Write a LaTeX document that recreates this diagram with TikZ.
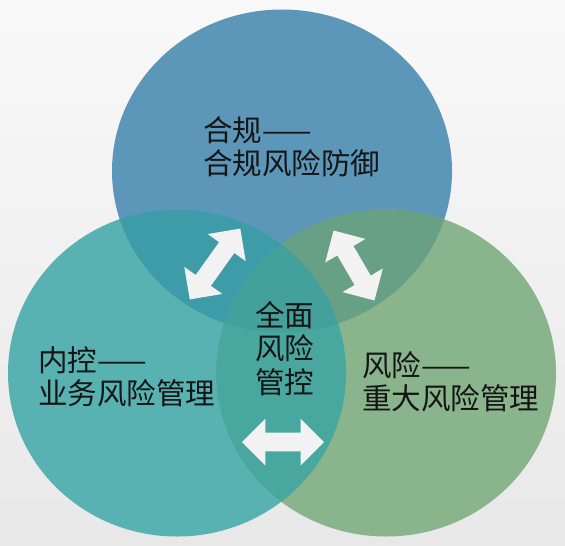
\documentclass[tikz,border=0pt]{standalone}
\usepackage{fontspec}
\setmainfont{Noto Sans CJK SC}
\usetikzlibrary{shapes.arrows}

\definecolor{topblue}{HTML}{5C96B8}
\definecolor{leftteal}{HTML}{58B2B2}
\definecolor{rightgreen}{HTML}{89B48C}
\definecolor{tlmix}{HTML}{3E9BA8}
\definecolor{trmix}{HTML}{68A086}
\definecolor{lrmix}{HTML}{48A8A0}
\definecolor{allmix}{HTML}{44A09B}
\definecolor{arrowwhite}{HTML}{F2F2F2}
\definecolor{textdark}{HTML}{151515}

% the three circles (slightly wider than tall, as in the picture)
\def\topcirc{(5.64,7.48) ellipse [x radius=3.40, y radius=3.23]}
\def\leftcirc{(3.54,3.44) ellipse [x radius=3.38, y radius=3.27]}
\def\rightcirc{(7.72,3.44) ellipse [x radius=3.40, y radius=3.27]}

\begin{document}
\begin{tikzpicture}[
    every node/.style={font=\fontsize{16.8}{19}\selectfont, text=textdark},
    circlabel/.style={align=left, anchor=north west, inner sep=0pt},
    twoway/.style={
        double arrow,
        fill=arrowwhite,
        draw=none,
        inner sep=0.18cm,
        double arrow head extend=0.28cm
    }
]

% ---------- background ----------
\shade[top color=gray!5, bottom color=gray!18] (0,0) rectangle (11.3,10.9);
\useasboundingbox (0,0) rectangle (11.3,10.9);

% ---------- circles ----------
\fill[topblue] \topcirc;
\fill[leftteal] \leftcirc;
\fill[rightgreen] \rightcirc;

% ---------- overlaps ----------
\begin{scope}
    \clip \topcirc;
    \fill[tlmix] \leftcirc;
    \fill[trmix] \rightcirc;
\end{scope}
\begin{scope}
    \clip \leftcirc;
    \fill[lrmix] \rightcirc;
\end{scope}
\begin{scope}
    \clip \topcirc;
    \clip \leftcirc;
    \fill[allmix] \rightcirc;
\end{scope}

% ---------- double arrows ----------
\node[twoway, minimum height=1.74cm, rotate=54.5] (arrTL) at (4.30,5.62) {};
\node[twoway, minimum height=1.62cm, rotate=-59.7] (arrTR) at (7.08,5.59) {};
\node[twoway, minimum height=1.64cm] (arrLR) at (5.66,2.06) {};

% ---------- labels ----------
\node[circlabel] (hegui) at (4.06,8.58) {合规——\\合规风险防御};
\node[circlabel] (neikong) at (0.76,3.98) {内控——\\业务风险管理};
\node[circlabel] (fengxian) at (7.24,3.88) {风险——\\重大风险管理};
\node[circlabel] (quanmian) at (5.10,4.88) {全面\\风险\\管控};

\end{tikzpicture}
\end{document}
